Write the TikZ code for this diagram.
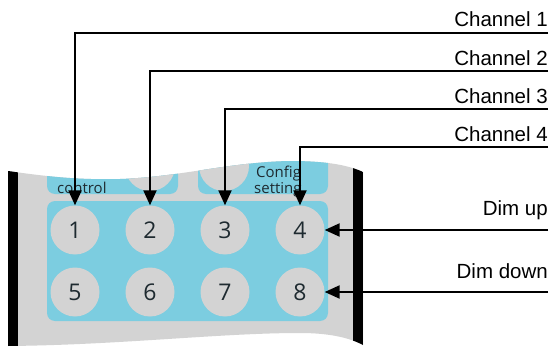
\documentclass[tikz,border=0pt]{standalone}
\usepackage{fontspec}
\setmainfont{Liberation Sans}
\newfontfamily\keyfont{Open Sans}
\usetikzlibrary{arrows.meta}
\definecolor{panelblue}{HTML}{7CCDE0}
\definecolor{bodygray}{HTML}{D3D3D3}
\definecolor{keyink}{HTML}{1E2A30}
\begin{document}
\begin{tikzpicture}[x=1pt,y=-1pt,
  key/.style={circle, fill=bodygray, minimum size=49pt, inner sep=0pt,
    font=\keyfont\fontsize{23}{23}\selectfont, text=keyink},
  lbl/.style={font=\fontsize{20.5}{22}\selectfont, inner sep=0pt, anchor=base east},
  paneltxt/.style={font=\keyfont\fontsize{15}{16}\selectfont, text=keyink,
    inner sep=0pt, anchor=base west},
  conn/.style={line width=2.2pt, -{Triangle[width=13pt,length=15pt]}}]
\useasboundingbox (0,0) rectangle (550,348);

% remote body: a wavy cut-out strip
\begin{scope}
  \clip (8,171) .. controls (50,177) and (80,180) .. (120,179)
        .. controls (180,177) and (230,162) .. (290,161)
        .. controls (330,161) and (350,166) .. (363,172)
        -- (363,345) .. controls (350,338) and (330,333) .. (300,333)
        .. controls (220,333) and (120,345) .. (8,346) -- cycle;
  \fill[bodygray] (0,0) rectangle (550,348);
  % upper panels, partly cut away
  \fill[panelblue, rounded corners=8pt] (47,130) rectangle (178,194);
  \fill[panelblue, rounded corners=8pt] (198,130) rectangle (328,194);
  \fill[bodygray] (150,166) circle (25pt);
  \fill[bodygray] (224,166) circle (25pt);
  % side edges
  \fill[black] (8,150) rectangle (18,350);
  \fill[black] (353,150) rectangle (363,350);
\end{scope}

% keypad panel
\fill[panelblue, rounded corners=8pt] (47,201) rectangle (328,321);

\node[paneltxt] (ctl) at (57,193) {control};
\node[paneltxt] (cfg) at (256,177) {Config};
\node[paneltxt] (set) at (254,193) {setting};

% keys
\node[key] (b1) at (75,230) {1};
\node[key] (b2) at (150,230) {2};
\node[key] (b3) at (225,230) {3};
\node[key] (b4) at (300,230) {4};
\node[key] (b5) at (75,292) {5};
\node[key] (b6) at (150,292) {6};
\node[key] (b7) at (225,292) {7};
\node[key] (b8) at (300,292) {8};

% labels
\node[lbl] (l1) at (548,27) {Channel 1};
\node[lbl] (l2) at (548,65) {Channel 2};
\node[lbl] (l3) at (548,103) {Channel 3};
\node[lbl] (l4) at (548,141) {Channel 4};
\node[lbl] (l5) at (548,215) {Dim up};
\node[lbl] (l6) at (548,278) {Dim down};

\coordinate (e1) at (548,33);
\coordinate (e2) at (548,71);
\coordinate (e3) at (548,109);
\coordinate (e4) at (548,147);
\coordinate (e5) at (548,230);
\coordinate (e6) at (548,292);

% connectors
\draw[conn] (e1) -| (b1);
\draw[conn] (e2) -| (b2);
\draw[conn] (e3) -| (b3);
\draw[conn] (e4) -| (b4);
\draw[conn] (e5) -- (b4);
\draw[conn] (e6) -- (b8);
\end{tikzpicture}
\end{document}
